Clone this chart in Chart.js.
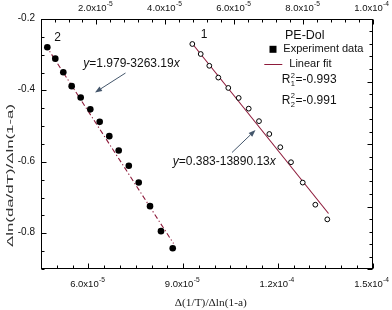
<!DOCTYPE html>
<html>
<head>
<meta charset="utf-8">
<script src="https://cdn.jsdelivr.net/npm/chart.js@4.4.1/dist/chart.umd.min.js"></script>
<style>
html,body{margin:0;padding:0;background:#fff;}
canvas{display:block;}
</style>
</head>
<body>
<canvas id="c" width="392" height="310"></canvas>
<script>
// ---- data ----
// series 1: open circles, plotted against the top x axis
const s1X = [4.782e-5, 5.025e-5, 5.274e-5, 5.535e-5, 5.824e-5, 6.125e-5, 6.415e-5, 6.713e-5, 7.012e-5, 7.330e-5, 7.640e-5, 7.979e-5, 8.344e-5, 8.691e-5];
const s1Y = [-0.270, -0.298, -0.331, -0.364, -0.393, -0.421, -0.451, -0.486, -0.522, -0.559, -0.601, -0.658, -0.720, -0.761];
const fit1X = [4.744e-5, 8.726e-5];
const fit1Y = [-0.2644, -0.7446];
// series 2: filled circles, plotted against the bottom x axis
const s2X = [4.700e-5, 4.953e-5, 5.206e-5, 5.472e-5, 5.757e-5, 6.062e-5, 6.359e-5, 6.663e-5, 6.961e-5, 7.281e-5, 7.595e-5, 7.953e-5, 8.301e-5, 8.672e-5];
const s2Y = [-0.279, -0.311, -0.349, -0.388, -0.420, -0.453, -0.488, -0.528, -0.568, -0.611, -0.658, -0.724, -0.794, -0.842];
const fit2X = [4.643e-5, 8.697e-5];
const fit2Y = [-0.2728, -0.8286];

// tick values and labels
const yTicks = [-0.2, -0.4, -0.6, -0.8];
const yTickLabels = ["-0.2", "-0.4", "-0.6", "-0.8"];
const bottomTicks = [6e-5, 9e-5, 1.2e-4, 1.5e-4];
const bottomTickLabels = [["6.0", "-5"], ["9.0", "-5"], ["1.2", "-4"], ["1.5", "-4"]];
const topTicks = [2e-5, 4e-5, 6e-5, 8e-5, 1e-4];
const topTickLabels = [["2.0", "-5"], ["4.0", "-5"], ["6.0", "-5"], ["8.0", "-5"], ["1.0", "-4"]];

const xTitle = "Δ(1/T)/Δln(1-a)";
const yTitle = "Δln(da/dT)/Δln(1-a)";

const MAROON = "#8e1b3b";
const ARROW = "#44566b";
const SANS = "'Liberation Sans', Arial, sans-serif";
const SERIF = "'Liberation Serif', 'Times New Roman', serif";

function pts(xs, ys) { return xs.map((x, i) => ({x: x, y: ys[i]})); }

const minorSpec = {
  x: {start: 4.5e-5, end: 1.5e-4, step: 5e-6},
  x2: {start: 4e-6, end: 1e-4, step: 4e-6},
  y: {start: -0.9, end: -0.2, step: 0.05},
  y2: {start: 0, end: 1, step: 0.05},
  y2major: 0.25
};

function drawSci(ctx, cx, baseY, mant, exp, size) {
  const base = mant + "x10";
  ctx.font = size + "px " + SANS;
  const wb = ctx.measureText(base).width;
  const ss = size * 0.7;
  ctx.font = ss + "px " + SANS;
  const we = ctx.measureText(exp).width;
  const x0 = cx - (wb + we) / 2;
  ctx.textAlign = "left";
  ctx.textBaseline = "alphabetic";
  ctx.font = size + "px " + SANS;
  ctx.fillText(base, x0, baseY);
  ctx.font = ss + "px " + SANS;
  ctx.fillText(exp, x0 + wb + 0.3, baseY - size * 0.45);
}

function arrow(ctx, x1, y1, x2, y2) {
  ctx.save();
  ctx.strokeStyle = ARROW; ctx.fillStyle = ARROW; ctx.lineWidth = 1;
  const a = Math.atan2(y2 - y1, x2 - x1);
  const hl = 7, hw = 2.6;
  const bx = x2 - hl * Math.cos(a), by = y2 - hl * Math.sin(a);
  ctx.beginPath(); ctx.moveTo(x1, y1); ctx.lineTo(bx, by); ctx.stroke();
  ctx.beginPath();
  ctx.moveTo(x2, y2);
  ctx.lineTo(bx + hw * Math.sin(a), by - hw * Math.cos(a));
  ctx.lineTo(bx - hw * Math.sin(a), by + hw * Math.cos(a));
  ctx.closePath(); ctx.fill();
  ctx.restore();
}

function richText(ctx, x, y, parts, size) {
  let cx = x;
  ctx.textAlign = "left"; ctx.textBaseline = "alphabetic";
  parts.forEach(p => {
    ctx.font = (p.it ? "italic " : "") + size + "px " + SANS;
    ctx.fillText(p.t, cx, y);
    cx += ctx.measureText(p.t).width;
  });
}

const framePlugin = {
  id: "frame",
  afterDatasetsDraw(chart) {
    const ctx = chart.ctx;
    const a = chart.chartArea;
    const sx = chart.scales.x, sx2 = chart.scales.x2, sy = chart.scales.y, sy2 = chart.scales.y2;
    const L = Math.round(a.left) + 0.5, R = Math.round(a.right) - 0.5;
    const T = Math.round(a.top) + 0.5, B = Math.round(a.bottom) - 0.5;
    ctx.save();
    ctx.strokeStyle = "#000"; ctx.fillStyle = "#000"; ctx.lineWidth = 1;
    ctx.strokeRect(L, T, R - L, B - T);
    const MJ = 5, MN = 3;
    const eps = 1e-12;
    function isMajor(v, list) { return list.some(t => Math.abs(t - v) < Math.abs(t) * 1e-6 + eps); }
    ctx.beginPath();
    for (let v = minorSpec.x.start; v <= minorSpec.x.end + eps; v += minorSpec.x.step) {
      const p = Math.round(sx.getPixelForValue(v)) + 0.5;
      const len = isMajor(v, bottomTicks) ? MJ : MN;
      ctx.moveTo(p, B); ctx.lineTo(p, B - len);
    }
    for (let v = minorSpec.x2.start; v <= minorSpec.x2.end + eps; v += minorSpec.x2.step) {
      const p = Math.round(sx2.getPixelForValue(v)) + 0.5;
      const len = isMajor(v, topTicks) ? MJ : MN;
      ctx.moveTo(p, T); ctx.lineTo(p, T + len);
    }
    for (let v = minorSpec.y.start; v <= minorSpec.y.end + eps; v += minorSpec.y.step) {
      const p = Math.round(sy.getPixelForValue(v)) + 0.5;
      const len = isMajor(v, yTicks) ? MJ : MN;
      ctx.moveTo(L, p); ctx.lineTo(L + len, p);
    }
    for (let i = 0; minorSpec.y2.start + i * minorSpec.y2.step <= minorSpec.y2.end + eps; i++) {
      const v = minorSpec.y2.start + i * minorSpec.y2.step;
      const p = Math.round(sy2.getPixelForValue(v)) + 0.5;
      const major = Math.abs(v / minorSpec.y2major - Math.round(v / minorSpec.y2major)) < 1e-6;
      ctx.moveTo(R, p); ctx.lineTo(R - (major ? MJ : MN), p);
    }
    ctx.stroke();

    // tick labels
    ctx.fillStyle = "#111";
    ctx.font = "10px " + SANS;
    ctx.textAlign = "right"; ctx.textBaseline = "middle";
    yTicks.forEach((v, i) => ctx.fillText(yTickLabels[i], a.left - 6, sy.getPixelForValue(v) - 1));
    bottomTicks.forEach((v, i) => drawSci(ctx, sx.getPixelForValue(v) - 1, a.bottom + 17.5, bottomTickLabels[i][0], bottomTickLabels[i][1], 9.5));
    topTicks.forEach((v, i) => drawSci(ctx, sx2.getPixelForValue(v) - 1, a.top - 8.5, topTickLabels[i][0], topTickLabels[i][1], 9.5));

    // axis titles
    ctx.save();
    ctx.fillStyle = "#222";
    ctx.font = "11px " + SERIF;
    ctx.textAlign = "center"; ctx.textBaseline = "middle";
    let w = ctx.measureText(xTitle).width;
    ctx.translate((a.left + a.right) / 2 + 4, a.bottom + 34);
    ctx.scale(72 / w, 1);
    ctx.fillText(xTitle, 0, 0);
    ctx.restore();

    ctx.save();
    ctx.fillStyle = "#333";
    ctx.font = "9.5px " + SANS;
    ctx.textAlign = "center"; ctx.textBaseline = "middle";
    w = ctx.measureText(yTitle).width;
    ctx.translate(10, 175.5);
    ctx.rotate(-Math.PI / 2);
    ctx.scale(143 / w, 1);
    ctx.fillText(yTitle, 0, 0);
    ctx.restore();

    // series numbers
    ctx.font = "12px " + SANS;
    ctx.textAlign = "center"; ctx.textBaseline = "middle";
    ctx.fillText("2", 57.5, 37.5);
    ctx.fillText("1", 204, 35);

    // legend
    ctx.textAlign = "left"; ctx.textBaseline = "alphabetic";
    ctx.font = "12.5px " + SANS;
    ctx.fillText("PE-Dol", 285, 38.5);
    ctx.fillStyle = "#000";
    ctx.fillRect(269.5, 45.8, 7, 7);
    ctx.fillStyle = "#111";
    ctx.font = "11px " + SANS;
    ctx.fillText("Experiment data", 283.3, 52.3);
    ctx.strokeStyle = MAROON; ctx.lineWidth = 1;
    ctx.beginPath(); ctx.moveTo(264.3, 64.5); ctx.lineTo(282.3, 64.5); ctx.stroke();
    ctx.fillText("Linear fit", 289.3, 67.3);

    function rsq(x, y, sub, val) {
      ctx.font = "12px " + SANS;
      ctx.fillText("R", x, y);
      const wr = ctx.measureText("R").width;
      ctx.font = "7.5px " + SANS;
      ctx.fillText("2", x + wr + 0.5, y - 5.5);
      ctx.fillText(sub, x + wr + 0.5, y + 3);
      const ws = ctx.measureText("2").width;
      ctx.font = "12px " + SANS;
      ctx.fillText(val, x + wr + ws + 1, y);
    }
    rsq(281.7, 83.3, "1", "=-0.993");
    rsq(281.7, 103.5, "2", "=-0.991");

    // fit equations with arrows
    ctx.fillStyle = "#111";
    richText(ctx, 83.3, 67, [{t: "y", it: true}, {t: "=1.979-3263.19"}, {t: "x", it: true}], 12);
    arrow(ctx, 125.5, 73, 95, 92.5);
    richText(ctx, 172.7, 165.3, [{t: "y", it: true}, {t: "=0.383-13890.13"}, {t: "x", it: true}], 12);
    arrow(ctx, 232, 152.5, 255.5, 130);
    ctx.restore();
  }
};

new Chart(document.getElementById("c"), {
  type: "scatter",
  data: {
    datasets: [
      {
        label: "1", data: pts(s1X, s1Y), xAxisID: "x2", yAxisID: "y",
        pointStyle: "circle", pointRadius: 2.4, pointBorderWidth: 1,
        pointBackgroundColor: "#fff", pointBorderColor: "#000", showLine: false
      },
      {
        label: "2", data: pts(s2X, s2Y), xAxisID: "x", yAxisID: "y",
        pointStyle: "circle", pointRadius: 3.3, pointBorderWidth: 0,
        pointBackgroundColor: "#000", pointBorderColor: "#000", showLine: false
      },
      {
        label: "fit1", data: pts(fit1X, fit1Y), xAxisID: "x2", yAxisID: "y",
        showLine: true, pointRadius: 0, borderColor: MAROON, borderWidth: 1.1, fill: false
      },
      {
        label: "fit2", data: pts(fit2X, fit2Y), xAxisID: "x", yAxisID: "y",
        showLine: true, pointRadius: 0, borderColor: MAROON, borderWidth: 1.1,
        borderDash: [5, 2.5, 1.2, 2.5], fill: false
      }
    ]
  },
  options: {
    responsive: false,
    animation: false,
    devicePixelRatio: 1,
    layout: {padding: {left: 41, right: 19.5, top: 19, bottom: 41}},
    plugins: {legend: {display: false}, tooltip: {enabled: false}},
    scales: {
      x: {type: "linear", position: "bottom", min: 4.5e-5, max: 1.5e-4, display: false},
      x2: {type: "linear", position: "top", min: 4e-6, max: 1e-4, display: false},
      y: {type: "linear", position: "left", min: -0.9, max: -0.2, display: false},
      y2: {type: "linear", position: "right", min: 0, max: 1, display: false}
    }
  },
  plugins: [framePlugin]
});
</script>
</body>
</html>
